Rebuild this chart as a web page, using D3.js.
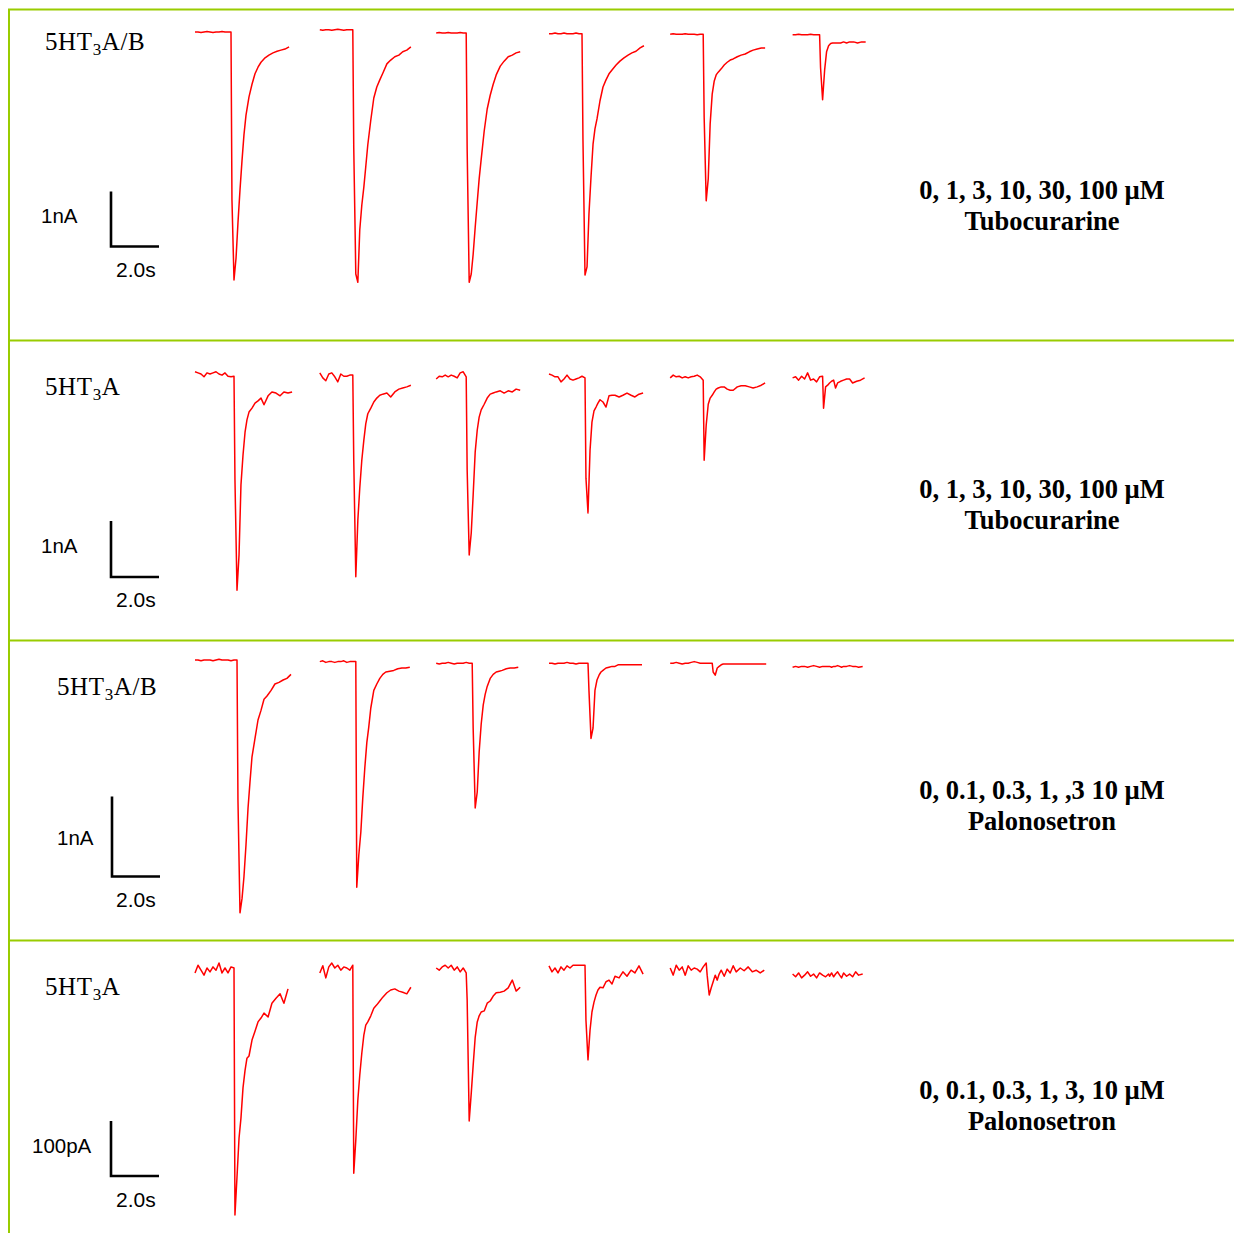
<!DOCTYPE html>
<html>
<head>
<meta charset="utf-8">
<script src="https://cdn.jsdelivr.net/npm/d3@7"></script>
<style>
  body { margin: 0; background: #fff; }
</style>
</head>
<body>
<div id="chart"></div>
<script>
// start of each sweep on the shared time axis (s)
var traceStart = [0, 5.2, 10.05, 14.75, 19.8, 24.9];
// baseline sampling interval (s)
var baseDt = 0.125;
// sample times after agonist onset (s)
var decayT = [0.04, 0.125, 0.21, 0.29, 0.375, 0.46, 0.54, 0.625, 0.75, 0.875, 1.0,
              1.125, 1.25, 1.42, 1.58, 1.75, 1.92, 2.08, 2.25, 2.42, 2.58];

// panel 1: 5HT3A/B, tubocurarine (nA)
var p1Base = [
  [0, 0, -0.01, 0, 0.01, 0, -0.01, 0, 0, 0.01, 0, 0, 0],
  [0.04, 0.03, 0.04, 0.04, 0.03, 0.04, 0.05, 0.04, 0.03, 0.04, 0.04, 0.04],
  [-0.02, -0.01, -0.02, -0.02, -0.01, -0.02, -0.02, -0.02, -0.01, -0.02, -0.02],
  [-0.03, -0.03, -0.02, -0.03, -0.03, -0.02, -0.03, -0.03, -0.03, -0.02, -0.03, -0.03],
  [-0.04, -0.03, -0.04, -0.04, -0.04, -0.03, -0.04, -0.04, -0.04, -0.05, -0.04, -0.04],
  [-0.05, -0.05, -0.04, -0.05, -0.05, -0.05, -0.04, -0.05, -0.05, -0.05]
];
var p1Decay = [
  [-3.05, -4.51, -4.11, -3.47, -2.87, -2.33, -1.87, -1.51, -1.18, -0.95, -0.76, -0.64, -0.55, -0.47, -0.42, -0.38, -0.35, -0.33, -0.31, -0.27],
  [-2.11, -4.4, -4.55, -3.6, -3.15, -2.82, -2.45, -2.05, -1.6, -1.2, -1.0, -0.87, -0.75, -0.58, -0.51, -0.45, -0.42, -0.36, -0.33, -0.27],
  [-2.13, -4.55, -4.4, -4.04, -3.55, -3.09, -2.67, -2.31, -1.8, -1.4, -1.15, -0.95, -0.78, -0.62, -0.53, -0.45, -0.42, -0.38, -0.36],
  [-1.95, -4.42, -4.27, -3.31, -2.64, -2.04, -1.76, -1.58, -1.25, -1.0, -0.87, -0.76, -0.69, -0.6, -0.53, -0.47, -0.42, -0.38, -0.35, -0.29, -0.25],
  [-1.55, -3.07, -2.67, -1.67, -1.13, -0.89, -0.78, -0.73, -0.67, -0.6, -0.55, -0.51, -0.49, -0.45, -0.42, -0.4, -0.36, -0.33, -0.31, -0.29, -0.29],
  [-0.65, -1.23, -0.69, -0.36, -0.25, -0.21, -0.2, -0.2, -0.2, -0.2, -0.18, -0.2, -0.18, -0.18, -0.2, -0.18, -0.18]
];

// panel 2: 5HT3A, tubocurarine (nA)
var p2Base = [
  [0.04, 0.02, 0, -0.05, 0.02, 0, 0.02, 0.04, 0, -0.02, 0.02, -0.04, -0.05, -0.04],
  [0.02, -0.07, -0.12, 0, 0.02, -0.05, -0.14, 0, -0.04, -0.04, -0.02, -0.02],
  [-0.09, -0.04, -0.05, -0.02, -0.05, -0.02, -0.04, -0.07, 0.02, 0.04, -0.05],
  [0, -0.02, -0.05, -0.05, -0.14, -0.09, -0.02, -0.09, -0.11, -0.09, -0.07, -0.04, -0.07],
  [-0.07, -0.02, -0.05, -0.04, -0.07, -0.05, -0.07, -0.05, -0.04, -0.02, -0.05, -0.11],
  [-0.07, -0.05, -0.11, -0.04, -0.09, 0.02, -0.11, -0.09, -0.14, -0.05, -0.04]
];
var p2Decay = [
  [-1.89, -3.86, -3.23, -1.98, -1.45, -1.04, -0.82, -0.68, -0.61, -0.52, -0.48, -0.43, -0.55, -0.39, -0.32, -0.34, -0.39, -0.32, -0.34, -0.32],
  [-1.54, -3.62, -2.61, -2.04, -1.54, -1.18, -0.89, -0.71, -0.61, -0.5, -0.43, -0.38, -0.36, -0.34, -0.41, -0.32, -0.27, -0.25, -0.23, -0.2],
  [-1.71, -3.23, -2.84, -2.16, -1.39, -1.0, -0.77, -0.64, -0.54, -0.43, -0.36, -0.34, -0.32, -0.3, -0.34, -0.3, -0.32, -0.27, -0.29],
  [-1.86, -2.48, -1.36, -0.86, -0.66, -0.59, -0.52, -0.46, -0.5, -0.59, -0.39, -0.38, -0.38, -0.41, -0.38, -0.34, -0.38, -0.41, -0.36, -0.34],
  [-1.54, -0.91, -0.54, -0.43, -0.38, -0.32, -0.27, -0.25, -0.23, -0.23, -0.27, -0.29, -0.29, -0.23, -0.21, -0.21, -0.23, -0.25, -0.23, -0.2, -0.16],
  [-0.61, -0.23, -0.2, -0.16, -0.13, -0.11, -0.25, -0.16, -0.13, -0.11, -0.09, -0.09, -0.16, -0.13, -0.11, -0.07]
];

// panel 3: 5HT3A/B, palonosetron (nA)
var p3Base = [
  [0, 0, -0.01, 0, 0, 0, -0.01, 0, 0.01, 0, 0, 0, -0.01, 0, 0],
  [-0.02, -0.01, -0.03, -0.02, -0.02, -0.03, -0.02, -0.02, -0.01, -0.03, -0.02, -0.02, -0.02],
  [-0.04, -0.05, -0.04, -0.04, -0.03, -0.04, -0.05, -0.04, -0.04, -0.04, -0.03, -0.04, -0.04],
  [-0.04, -0.04, -0.05, -0.04, -0.04, -0.04, -0.03, -0.04, -0.04, -0.05, -0.04, -0.04, -0.04, -0.04],
  [-0.04, -0.04, -0.03, -0.04, -0.05, -0.04, -0.04, -0.03, -0.02, -0.03, -0.04, -0.04, -0.04, -0.04, -0.04],
  [-0.09, -0.08, -0.09, -0.08, -0.08, -0.09, -0.08, -0.07, -0.08, -0.09, -0.08, -0.08, -0.08]
];
var p3Decay = [
  [-1.75, -3.16, -2.98, -2.71, -2.31, -1.85, -1.53, -1.21, -0.98, -0.75, -0.63, -0.49, -0.45, -0.38, -0.3, -0.28, -0.25, -0.23, -0.18],
  [-2.84, -2.44, -2.15, -1.73, -1.35, -1.03, -0.84, -0.6, -0.38, -0.3, -0.23, -0.18, -0.15, -0.14, -0.13, -0.11, -0.1, -0.1, -0.09],
  [-0.85, -1.85, -1.65, -1.15, -0.8, -0.56, -0.43, -0.33, -0.23, -0.18, -0.15, -0.14, -0.13, -0.11, -0.1, -0.1, -0.09],
  [-0.38, -0.98, -0.85, -0.38, -0.25, -0.19, -0.15, -0.13, -0.1, -0.09, -0.08, -0.08, -0.06, -0.06, -0.06, -0.06, -0.06, -0.06, -0.06],
  [-0.15, -0.19, -0.1, -0.08, -0.06, -0.05, -0.05, -0.05, -0.05, -0.05, -0.05, -0.05, -0.05, -0.05, -0.05, -0.05, -0.05, -0.05, -0.05],
  [-0.08, -0.09, -0.08, -0.08, -0.07, -0.08, -0.09, -0.08, -0.08, -0.07, -0.08, -0.08, -0.09, -0.08]
];

// panel 4: 5HT3A, palonosetron (pA)
var p4Base = [
  [-9, 5, -4, -13, 0, -7, 2, -4, 9, -9, 0, -9, 2, 0],
  [-9, 4, -18, 2, 9, 0, 5, -4, 2, 0, -4, 5],
  [0, -4, 2, 5, 0, 5, -4, 2, -7, 0, -9],
  [4, -7, 0, -9, 2, -4, 4, 0, 5, 5, 5, 5, 5],
  [0, -13, 5, -4, 2, -13, 4, -4, 0, -2, -7, 2, 9],
  [-11, -16, -9, -18, -13, -7, -15, -11, -18, -9, -13, -16, -11]
];
var p4Decay = [
  [-449, -380, -309, -273, -218, -186, -164, -160, -131, -115, -98, -91, -82, -89, -64, -55, -47, -64, -38],
  [-373, -313, -240, -195, -155, -122, -104, -98, -87, -73, -67, -60, -53, -45, -40, -38, -42, -44, -47, -35],
  [-58, -278, -228, -177, -126, -98, -87, -80, -78, -64, -60, -51, -45, -44, -42, -36, -22, -42, -35],
  [-95, -167, -113, -80, -62, -49, -40, -35, -36, -25, -22, -29, -15, -18, -7, -15, -4, -9, 4, -11],
  [-13, -49, -36, -25, -13, -22, -11, -4, -15, -2, -9, 4, -7, 0, -5, 2, -7, -4, -9, -4],
  [-15, -9, -16, -11, -7, -13, -18, -9, -15, -11, -16, -7, -13, -11]
];

var receptors = ["A/B", "A", "A/B", "A"];
var concLabels = ["0, 1, 3, 10, 30, 100 \u00b5M", "0, 1, 3, 10, 30, 100 \u00b5M",
                  "0, 0.1, 0.3, 1, ,3 10 \u00b5M", "0, 0.1, 0.3, 1, 3, 10 \u00b5M"];
var drugs = ["Tubocurarine", "Tubocurarine", "Palonosetron", "Palonosetron"];
var barCurrent = [1, 1, 1, 100];
var barUnits = ["1nA", "1nA", "1nA", "100pA"];
var barTime = 2.0;

function init() {

    var w = 1234;
    var h = 1233;
    var green = "#99cc00";

    var svg = d3.select("#chart")
                .append("svg")
                .attr("width", w)
                .attr("height", h);

    // layout of each panel
    var panels = [
        { top: 9,   zeroY: 32,  barPx: 55, base: p1Base, decay: p1Decay,
          nameX: 45, nameY: 50,  unitX: 41, unitY: 223,  barX: 111, barY: 246.5, timeY: 277, textY: 199 },
        { top: 340, zeroY: 374, barPx: 56, base: p2Base, decay: p2Decay,
          nameX: 45, nameY: 395, unitX: 41, unitY: 553,  barX: 111, barY: 577, timeY: 607, textY: 498 },
        { top: 640, zeroY: 660, barPx: 80, base: p3Base, decay: p3Decay,
          nameX: 57, nameY: 695, unitX: 57, unitY: 845,  barX: 112, barY: 876.5, timeY: 907, textY: 799 },
        { top: 940, zeroY: 968, barPx: 55, base: p4Base, decay: p4Decay,
          nameX: 45, nameY: 995, unitX: 32, unitY: 1153, barX: 111, barY: 1176, timeY: 1207, textY: 1099 }
    ];

    var xScale = d3.scaleLinear()
                   .domain([0, 30])
                   .range([195, 195 + 720]);

    // frame
    svg.append("line")
       .attr("x1", 9).attr("x2", 9).attr("y1", 9).attr("y2", h)
       .attr("stroke", green).attr("stroke-width", 2);
    panels.forEach(function(p) {
        svg.append("line")
           .attr("x1", 8).attr("x2", w).attr("y1", p.top + 0.5).attr("y2", p.top + 0.5)
           .attr("stroke", green).attr("stroke-width", 2);
    });

    var line = d3.line()
                 .x(function(d) { return d.x; })
                 .y(function(d) { return d.y; });

    panels.forEach(function(p, k) {

        var yScale = d3.scaleLinear()
                       .domain([0, -barCurrent[k]])
                       .range([p.zeroY, p.zeroY + p.barPx]);

        var g = svg.append("g");

        // sweeps
        var sweeps = p.base.map(function(b, i) {
            var pts = [];
            b.forEach(function(v, j) {
                pts.push({ x: xScale(traceStart[i] + j * baseDt), y: yScale(v) });
            });
            var onset = traceStart[i] + (b.length - 1) * baseDt;
            p.decay[i].forEach(function(v, j) {
                pts.push({ x: xScale(onset + decayT[j]), y: yScale(v) });
            });
            return pts;
        });

        g.selectAll("path.sweep")
         .data(sweeps)
         .enter()
         .append("path")
         .attr("class", "sweep")
         .attr("d", line)
         .attr("fill", "none")
         .attr("stroke", "#ff0000")
         .attr("stroke-width", 1.5)
         .attr("stroke-linejoin", "round");

        // receptor name
        var name = g.append("text")
                    .attr("x", p.nameX)
                    .attr("y", p.nameY)
                    .attr("font-family", "Liberation Serif, Times New Roman, serif")
                    .attr("font-size", 25)
                    .attr("letter-spacing", 0.6)
                    .attr("fill", "#000");
        name.append("tspan").text("5HT");
        name.append("tspan").attr("font-size", 17).attr("dy", 5).text("3");
        name.append("tspan").attr("dy", -5).text(receptors[k]);

        // scale bar
        var barLen = yScale(-barCurrent[k]) - yScale(0);
        var timeLen = xScale(barTime) - xScale(0);
        g.append("path")
         .attr("d", "M" + p.barX + "," + (p.barY - barLen) +
                    "V" + p.barY + "H" + (p.barX + timeLen))
         .attr("fill", "none")
         .attr("stroke", "#000")
         .attr("stroke-width", 2.6);

        g.append("text")
         .attr("x", p.unitX)
         .attr("y", p.unitY)
         .attr("font-family", "Liberation Sans, Arial, sans-serif")
         .attr("font-size", 20.5)
         .text(barUnits[k]);

        g.append("text")
         .attr("x", 116)
         .attr("y", p.timeY)
         .attr("font-family", "Liberation Sans, Arial, sans-serif")
         .attr("font-size", 21)
         .text(barTime.toFixed(1) + "s");

        // concentrations and drug
        g.append("text")
         .attr("x", 1042)
         .attr("y", p.textY)
         .attr("text-anchor", "middle")
         .attr("font-family", "Liberation Serif, Times New Roman, serif")
         .attr("font-weight", "bold")
         .attr("font-size", 26.5)
         .text(concLabels[k]);

        g.append("text")
         .attr("x", 1042)
         .attr("y", p.textY + 31)
         .attr("text-anchor", "middle")
         .attr("font-family", "Liberation Serif, Times New Roman, serif")
         .attr("font-weight", "bold")
         .attr("font-size", 26.5)
         .text(drugs[k]);
    });
}

window.onload = init;
</script>
</body>
</html>
